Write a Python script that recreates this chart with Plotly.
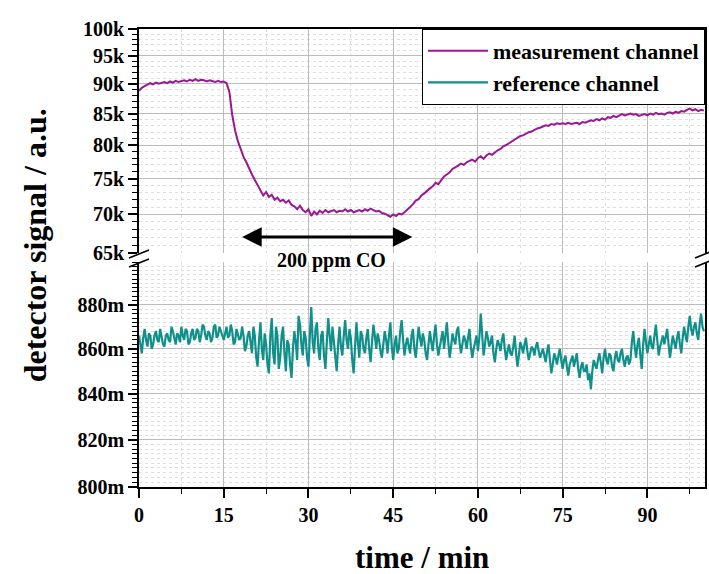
import math
import plotly.graph_objects as go

# ---------------- data ----------------
T_END_MIN = 100.0  # both series are sampled evenly from 0 to 100 min

# measurement channel, detector signal in k (thousands), every 0.5 min
meas_k = [
    88.8, 89.3, 89.6, 89.9, 90.1, 89.9, 90.2, 90.0, 90.1, 90.3,
    90.1, 90.4, 90.2, 90.5, 90.3, 90.5, 90.6, 90.4, 90.7, 90.5,
    90.8, 90.5, 90.7, 90.6, 90.4, 90.6, 90.5, 90.3, 90.5, 90.3,
    90.4, 90.1, 88.6, 84.8, 82.3, 80.6, 79.4, 78.2, 77.4, 76.4,
    75.6, 74.8, 74.1, 73.4, 72.6, 73.1, 72.4, 72.7, 72.0, 72.3,
    71.8, 72.0, 71.6, 71.9, 71.3, 71.1, 70.7, 71.2, 70.6, 70.3,
    70.7, 69.8, 70.4, 70.0, 70.5, 70.2, 70.6, 70.3, 70.4, 70.6,
    70.3, 70.5, 70.4, 70.7, 70.4, 70.6, 70.3, 70.5, 70.6, 70.4,
    70.7, 70.5, 70.8, 70.6, 70.4, 70.5, 70.2, 70.1, 69.9, 69.7,
    70.0, 69.8, 70.1, 70.0, 70.3, 70.6, 71.0, 71.4, 71.9, 72.1,
    72.6, 72.9, 73.3, 73.6, 73.9, 74.4, 74.2, 74.8, 75.3, 75.6,
    75.9, 76.4, 76.6, 76.9, 77.2, 77.0, 77.4, 77.6, 77.8, 77.5,
    78.0, 78.3, 77.9, 78.4, 78.7, 78.5, 78.9, 79.2, 79.4, 79.8,
    80.0, 80.3, 80.6, 80.8, 81.1, 81.4, 81.5, 81.8, 82.0, 82.1,
    82.4, 82.6, 82.7, 82.9, 83.1, 83.0, 83.3, 83.2, 83.4, 83.3,
    83.4, 83.3, 83.5, 83.3, 83.4, 83.5, 83.3, 83.6, 83.5, 83.7,
    83.9, 83.8, 84.1, 83.9, 84.2, 84.0, 84.4, 84.3, 84.6, 84.4,
    84.7, 84.9, 84.7, 84.9, 85.0, 84.8, 84.9, 84.6, 84.8, 84.9,
    84.7, 85.0, 84.8, 85.1, 84.9, 85.0, 84.8, 85.1, 85.2, 85.0,
    85.3, 85.1, 85.4, 85.3, 85.6, 85.8, 85.5, 85.7, 85.4, 85.6,
    85.5,
]

# reference channel, detector signal in m (milli), every 0.25 min
ref_m = [
    866, 862, 858, 865, 869, 864, 861, 867, 866, 860, 862, 866, 868, 864, 863, 869, 865, 862, 861, 866,
    867, 864, 863, 870, 868, 865, 862, 867, 866, 863, 870, 866, 864, 869, 868, 862, 863, 867, 869, 864,
    865, 869, 868, 863, 866, 871, 870, 866, 864, 868, 867, 863, 865, 870, 871, 865, 866, 870, 868, 865,
    864, 867, 870, 865, 866, 871, 868, 862, 863, 869, 867, 864, 865, 870, 866, 859, 861, 866, 868, 862,
    858, 870, 866, 856, 852, 864, 872, 860, 855, 867, 862, 853, 849, 866, 874, 858, 853, 870, 866, 851,
    856, 866, 870, 858, 850, 864, 862, 853, 847, 860, 868, 863, 855, 875, 871, 862, 857, 868, 865, 856,
    852, 866, 879, 863, 858, 869, 872, 860, 855, 866, 868, 857, 851, 863, 874, 866, 859, 870, 864, 855,
    850, 862, 870, 861, 857, 866, 873, 864, 860, 869, 865, 855, 849, 861, 872, 863, 856, 868, 866, 860,
    858, 865, 869, 860, 854, 863, 871, 866, 860, 867, 864, 859, 856, 862, 868, 864, 858, 866, 872, 861,
    855, 862, 866, 858, 860, 868, 873, 864, 857, 862, 865, 861, 858, 866, 869, 860, 856, 863, 870, 865,
    861, 867, 864, 858, 855, 862, 868, 863, 859, 866, 871, 862, 857, 861, 865, 868, 860, 866, 872, 863,
    856, 861, 867, 864, 862, 868, 870, 863, 858, 862, 866, 864, 860, 865, 869, 861, 856, 860, 864, 866,
    859, 865, 876, 866, 857, 862, 868, 865, 861, 863, 866, 858, 854, 860, 864, 862, 859, 864, 867, 860,
    855, 859, 862, 858, 857, 861, 866, 858, 852, 857, 863, 861, 858, 862, 865, 859, 855, 858, 861, 860,
    857, 861, 863, 859, 856, 858, 860, 857, 854, 859, 862, 855, 849, 853, 858, 856, 853, 857, 860, 855,
    851, 855, 857, 852, 848, 853, 855, 857, 852, 855, 858, 851, 847, 852, 854, 850, 850, 853, 846, 849,
    842, 850, 855, 853, 851, 855, 858, 854, 849, 856, 860, 855, 853, 858, 857, 852, 850, 856, 859, 855,
    854, 858, 860, 855, 852, 856, 857, 853, 855, 863, 868, 861, 856, 862, 865, 857, 851, 862, 869, 863,
    858, 862, 866, 861, 860, 866, 871, 864, 857, 861, 864, 866, 862, 866, 869, 862, 856, 861, 866, 863,
    860, 865, 868, 862, 858, 865, 870, 866, 863, 870, 875, 869, 866, 870, 872, 867, 864, 871, 876, 870,
    868,
]

meas_time = [T_END_MIN * k / (len(meas_k) - 1) for k in range(len(meas_k))]
ref_time = [T_END_MIN * k / (len(ref_m) - 1) for k in range(len(ref_m))]

x_ticks = [0, 15, 30, 45, 60, 75, 90]
top_ticks = [65000, 70000, 75000, 80000, 85000, 90000, 95000, 100000]
top_labels = ["65k", "70k", "75k", "80k", "85k", "90k", "95k", "100k"]
bot_ticks = [0.800, 0.820, 0.840, 0.860, 0.880]
bot_labels = ["800m", "820m", "840m", "860m", "880m"]

names = ["measurement channel", "reference channel"]
arrow_label = "200 ppm CO"
arrow_span_min = [18.0, 48.4]

# ---------------- styling ----------------
PURPLE = "#9c1695"
TEAL = "#10908b"
FONT = "Liberation Serif"
GRID = "#bcbcbc"
MINOR_GRID = "#dedede"

W, H = 709, 574
ML, MR, MT, MB = 139, 2, 29, 87
plot_h = H - MT - MB
plot_w = W - ML - MR


def py(pix):
    """pixel row -> paper y"""
    return (H - MB - pix) / plot_h


def px(pix):
    return (pix - ML) / plot_w


top_dom = [py(253), 1.0]
bot_dom = [0.0, py(262)]

fig = go.Figure()
fig.add_trace(go.Scatter(
    x=meas_time, y=[v * 1000 for v in meas_k], xaxis="x2", yaxis="y2",
    mode="lines", line=dict(color=PURPLE, width=2), name=names[0]))
fig.add_trace(go.Scatter(
    x=ref_time, y=[v / 1000 for v in ref_m], xaxis="x", yaxis="y",
    mode="lines", line=dict(color=TEAL, width=2.2), name=names[1]))

tickfont = dict(family=FONT, size=20, color="black", weight="bold")

common_x = dict(
    range=[0, 100.2], tickmode="array", tickvals=x_ticks,
    showgrid=True, gridcolor=GRID, gridwidth=1, zeroline=False,
    showline=True, linecolor="black", linewidth=1.6,
)

fig.update_layout(
    width=W, height=H,
    margin=dict(l=ML, r=MR, t=MT, b=MB),
    paper_bgcolor="white", plot_bgcolor="white",
    font=dict(family=FONT, color="black", weight="bold"),
    showlegend=True,
    legend=dict(x=1, y=1, xanchor="right", yanchor="top",
                bgcolor="white", bordercolor="black", borderwidth=1,
                font=dict(family=FONT, size=22, color="black", weight="bold"),
                itemwidth=60, tracegroupgap=0),
    xaxis=dict(
        **common_x, anchor="y", domain=[0, 1],
        ticks="outside", ticklen=9, tickwidth=1.6, tickcolor="black",
        tickfont=tickfont,
        minor=dict(tick0=0, dtick=7.5, ticks="outside", ticklen=5, tickwidth=1.4,
                   tickcolor="black", showgrid=True, griddash="dot",
                   gridcolor=MINOR_GRID, gridwidth=1),
    ),
    xaxis2=dict(
        **common_x, anchor="y2", matches="x", side="top",
        showticklabels=False, ticks="",
        minor=dict(tick0=0, dtick=7.5, ticks="", showgrid=True, griddash="dot",
                   gridcolor=MINOR_GRID, gridwidth=1),
    ),
    yaxis=dict(
        type="log", domain=bot_dom, anchor="x",
        range=[math.log10(0.8), math.log10(0.9)],
        tickmode="array", tickvals=bot_ticks, ticktext=bot_labels,
        ticks="outside", ticklen=9, tickwidth=1.6, tickcolor="black",
        tickfont=tickfont, showline=True, mirror=True, linecolor="black",
        linewidth=1.6, showgrid=True, gridcolor=GRID, zeroline=False,
        minor=dict(tickmode="array",
                   tickvals=[round(0.800 + 0.002 * k, 3) for k in range(51)],
                   ticks="outside", ticklen=5, tickwidth=1.2, tickcolor="black",
                   showgrid=True, griddash="dot", gridcolor=MINOR_GRID, gridwidth=1),
    ),
    yaxis2=dict(
        type="log", domain=top_dom, anchor="x2",
        range=[math.log10(65000), math.log10(100000)],
        tickmode="array", tickvals=top_ticks, ticktext=top_labels,
        ticks="outside", ticklen=9, tickwidth=1.6, tickcolor="black",
        tickfont=tickfont, showline=True, mirror=True, linecolor="black",
        linewidth=1.6, showgrid=True, gridcolor=GRID, zeroline=False,
        minor=dict(tickmode="array",
                   tickvals=[65000 + 1000 * k for k in range(36)],
                   ticks="outside", ticklen=5, tickwidth=1.2, tickcolor="black",
                   showgrid=True, griddash="dot", gridcolor=MINOR_GRID, gridwidth=1),
    ),
)

# axis-break slashes on the left and right frame
shapes = []
for xa in (0, 1):
    for ya in (py(254), py(263)):
        shapes.append(dict(
            type="line", xref="paper", yref="paper",
            xsizemode="pixel", ysizemode="pixel", xanchor=xa, yanchor=ya,
            x0=-10, x1=10, y0=-4, y1=4,
            line=dict(color="black", width=1.6)))
fig.update_layout(shapes=shapes)

arrow_y = math.log10(100000) - (237 - 29) / (224 / math.log10(100000 / 65000))

annotations = [
    dict(x=arrow_span_min[1], y=arrow_y, ax=arrow_span_min[0], ay=arrow_y,
         xref="x2", yref="y2", axref="x2", ayref="y2", text="",
         showarrow=True, arrowhead=2, startarrowhead=2, arrowside="end+start",
         arrowsize=1.3, startarrowsize=1.3, arrowwidth=3, arrowcolor="black",
         standoff=0, startstandoff=0),
    dict(x=34, y=py(260), xref="x2", yref="paper", text=arrow_label,
         showarrow=False, xanchor="center", yanchor="middle",
         font=dict(family=FONT, size=20, color="black", weight="bold")),
    dict(x=px(35), y=py(245), xref="paper", yref="paper",
         text="detector signal / a.u.", textangle=-90, showarrow=False,
         xanchor="center", yanchor="middle",
         font=dict(family=FONT, size=32, color="black", weight="bold")),
    dict(x=0.5, y=py(557), xref="paper", yref="paper", text="time / min",
         showarrow=False, xanchor="center", yanchor="middle",
         font=dict(family=FONT, size=31, color="black", weight="bold")),
]
fig.update_layout(annotations=annotations)

fig.write_html("out.html",
               config={"displayModeBar": False},
               post_script="document.body.style.margin='0';document.body.style.padding='0';")
